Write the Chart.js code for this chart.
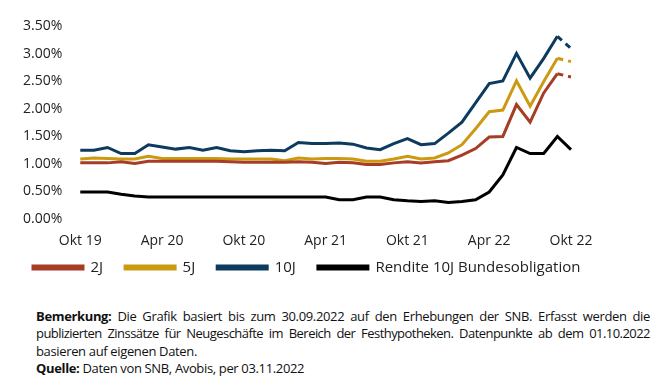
<!DOCTYPE html>
<html lang="de">
<head>
<meta charset="utf-8">
<script src="https://cdn.jsdelivr.net/npm/chart.js@4/dist/chart.umd.min.js"></script>
<style>
  body { margin: 0; background: #fff; }
  #wrap { position: relative; width: 655px; height: 297px; }
  .notes {
    position: absolute; left: 36px; top: 308px; width: 614px;
    font-family: 'Open Sans', sans-serif;
    font-size: 13px; line-height: 17.4px; color: #111;
    letter-spacing: -0.35px;
  }
  .notes .j { text-align: justify; text-align-last: justify; white-space: nowrap; }
  .notes .tight { letter-spacing: -0.55px; }
</style>
</head>
<body>
<div id="wrap"><canvas id="chart"></canvas></div>
<div class="notes">
  <div class="j"><b>Bemerkung:</b> Die Grafik basiert bis zum 30.09.2022 auf den Erhebungen der SNB. Erfasst werden die</div>
  <div class="j tight">publizierten Zinssätze für Neugeschäfte im Bereich der Festhypotheken. Datenpunkte ab dem 01.10.2022</div>
  <div>basieren auf eigenen Daten.</div>
  <div><b>Quelle:</b> Daten von SNB, Avobis, per 03.11.2022</div>
</div>
<script>
// Monate Okt 19 - Okt 22
const months = ['Okt 19', 'Nov 19', 'Dez 19', 'Jan 20', 'Feb 20', 'Mär 20', 'Apr 20', 'Mai 20', 'Jun 20',
  'Jul 20', 'Aug 20', 'Sep 20', 'Okt 20', 'Nov 20', 'Dez 20', 'Jan 21', 'Feb 21', 'Mär 21', 'Apr 21',
  'Mai 21', 'Jun 21', 'Jul 21', 'Aug 21', 'Sep 21', 'Okt 21', 'Nov 21', 'Dez 21', 'Jan 22', 'Feb 22',
  'Mär 22', 'Apr 22', 'Mai 22', 'Jun 22', 'Jul 22', 'Aug 22', 'Sep 22', 'Okt 22'];

const rate2J = [1.02, 1.02, 1.02, 1.04, 1.01, 1.05, 1.05, 1.05, 1.05, 1.05, 1.05, 1.04, 1.03, 1.03, 1.03,
  1.03, 1.04, 1.03, 1.01, 1.03, 1.02, 0.99, 0.99, 1.02, 1.04, 1.02, 1.04, 1.06, 1.16, 1.28, 1.49, 1.50,
  2.08, 1.76, 2.29, 2.64, 2.58];
const rate5J = [1.09, 1.11, 1.10, 1.09, 1.09, 1.14, 1.10, 1.10, 1.10, 1.10, 1.10, 1.09, 1.09, 1.09, 1.09,
  1.06, 1.11, 1.09, 1.10, 1.10, 1.09, 1.05, 1.05, 1.09, 1.14, 1.09, 1.11, 1.20, 1.35, 1.64, 1.95, 1.98,
  2.51, 2.05, 2.50, 2.92, 2.86];
const rate10J = [1.25, 1.25, 1.30, 1.19, 1.19, 1.35, 1.31, 1.27, 1.30, 1.25, 1.30, 1.24, 1.22, 1.24, 1.25,
  1.24, 1.39, 1.37, 1.37, 1.38, 1.36, 1.29, 1.26, 1.37, 1.46, 1.35, 1.37, 1.56, 1.76, 2.11, 2.46, 2.51,
  3.01, 2.56, 2.92, 3.32, 3.10];
const bondYield = [0.49, 0.49, 0.49, 0.45, 0.42, 0.40, 0.40, 0.40, 0.40, 0.40, 0.40, 0.40, 0.40, 0.40, 0.40,
  0.40, 0.40, 0.40, 0.40, 0.35, 0.35, 0.40, 0.40, 0.35, 0.33, 0.32, 0.33, 0.30, 0.32, 0.35, 0.49, 0.80,
  1.30, 1.19, 1.19, 1.50, 1.26];

const yTicks = [0, 0.5, 1, 1.5, 2, 2.5, 3, 3.5];

const lastIdx = months.length - 1;

function lineSet(label, data, color, dashedEnd) {
  return {
    label: label,
    data: data,
    borderColor: color,
    backgroundColor: color,
    borderWidth: 3,
    pointRadius: 0,
    tension: 0,
    segment: {
      // ab 01.10.2022 eigene Daten -> gestrichelt
      borderDash: c => (dashedEnd && c.p1DataIndex === lastIdx) ? [6, 5] : undefined
    }
  };
}

// Legende: volle Breite (eine Zeile) und naeher an die Achsenbeschriftung
const legendShift = {
  id: 'legendShift',
  afterInit(chart) {
    const lg = chart.legend;
    const update = lg.update.bind(lg);
    lg.update = (maxWidth, maxHeight, margins) => update(chart.width - 10, maxHeight, margins);
  },
  afterLayout(chart) {
    const lg = chart.legend;
    lg.top -= 12; lg.bottom -= 12;
    lg.left += 6; lg.right = chart.width;
  }
};

const font = { family: "'Open Sans', sans-serif", size: 14 };

const chart = new Chart(document.getElementById('chart'), {
  type: 'line',
  data: {
    labels: months,
    datasets: [
      lineSet('2J', rate2J, '#a63d24', true),
      lineSet('5J', rate5J, '#cc9a10', true),
      lineSet('10J', rate10J, '#0c3b5f', true),
      lineSet('Rendite 10J Bundesobligation', bondYield, '#000000', false)
    ]
  },
  plugins: [legendShift],
  options: {
    responsive: true,
    maintainAspectRatio: false,
    animation: false,
    layout: { padding: { left: 5, right: 84, top: 2.5, bottom: 0 } },
    plugins: {
      legend: {
        position: 'bottom',
        align: 'start',
        labels: {
          boxWidth: 50,
          boxHeight: 3,
          padding: 22,
          color: '#222',
          font: { family: "'Open Sans', sans-serif", size: 15 }
        }
      },
      tooltip: { enabled: false }
    },
    scales: {
      x: {
        grid: { display: false, drawTicks: false },
        border: { display: false },
        afterFit: axis => { axis.height = 31; },
        ticks: {
          autoSkip: false,
          maxRotation: 0,
          padding: 14,
          color: '#222',
          font: font,
          callback: function(v, i) { return i % 6 === 0 ? months[i] : null; }
        }
      },
      y: {
        min: 0,
        max: 3.5,
        afterBuildTicks: axis => { axis.ticks = yTicks.map(v => ({ value: v })); },
        grid: { display: false, drawTicks: false },
        border: { display: false },
        ticks: {
          padding: 18,
          color: '#222',
          font: font,
          callback: v => v.toFixed(2) + '%'
        }
      }
    }
  }
});
</script>
</body>
</html>
